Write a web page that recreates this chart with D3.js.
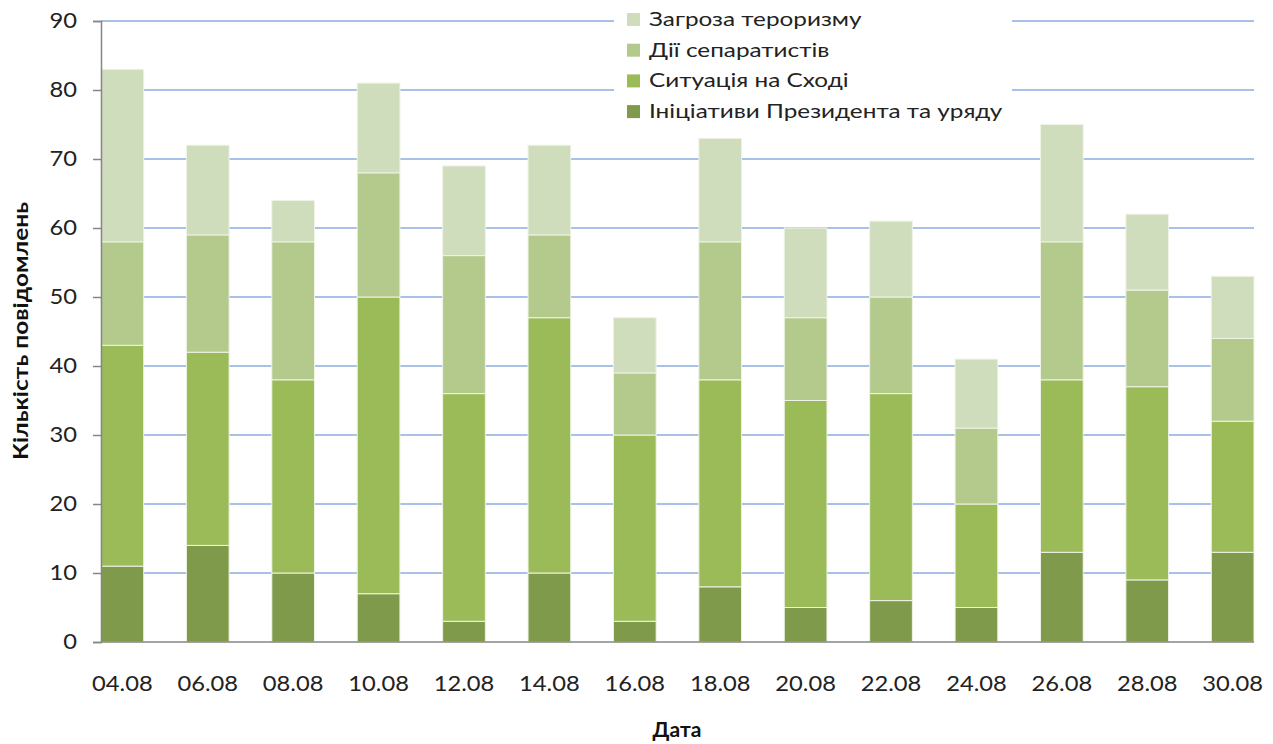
<!DOCTYPE html>
<html>
<head>
<meta charset="utf-8">
<script src="https://cdn.jsdelivr.net/npm/d3@7"></script>
<style>
  body { margin: 0; background: #fff; }
  text { font-family: Lato, "Noto Sans", sans-serif; }
</style>
</head>
<body>
<script>
const width = 1273, height = 744;

const dates = ["04.08","06.08","08.08","10.08","12.08","14.08","16.08","18.08","20.08","22.08","24.08","26.08","28.08","30.08"];
const initiatives = [11,14,10,7,3,10,3,8,5,6,5,13,9,13];
const eastSituation = [32,28,28,43,33,37,27,30,30,30,15,25,28,19];
const separatists = [15,17,20,18,20,12,9,20,12,14,11,20,14,12];
const terrorism = [25,13,6,13,13,13,8,15,13,11,10,17,11,9];
const yTicks = [0,10,20,30,40,50,60,70,80,90];

const seriesNames = ["Ініціативи Президента та уряду","Ситуація на Сході","Дії сепаратистів","Загроза тероризму"];
const colors = ["#7f9a4b","#9bbb59","#b4ca8c","#d0ddbc"];

const rows = dates.map((d, i) => ({
  date: d,
  s0: initiatives[i], s1: eastSituation[i], s2: separatists[i], s3: terrorism[i]
}));
const stack = d3.stack().keys(["s0","s1","s2","s3"])(rows);

const svg = d3.select("body").append("svg")
  .attr("width", width).attr("height", height);

const x = d3.scaleBand().domain(dates).range([101, 1254])
  .paddingInner(0.5).paddingOuter(0);
const y = d3.scaleLinear().domain([0, 90]).range([642, 21]);

// gridlines
svg.append("g").selectAll("line")
  .data(yTicks.filter(t => t > 0))
  .join("line")
    .attr("x1", 101).attr("x2", 1254)
    .attr("y1", d => y(d)).attr("y2", d => y(d))
    .attr("stroke", "#a9c0e8").attr("stroke-width", 2);

// bars
svg.append("g").selectAll("g")
  .data(stack)
  .join("g")
    .attr("fill", (d, i) => colors[i])
  .selectAll("rect")
  .data(d => d)
  .join("rect")
    .attr("x", d => x(d.data.date))
    .attr("width", x.bandwidth())
    .attr("y", d => y(d[1]))
    .attr("height", d => y(d[0]) - y(d[1]))
    .attr("stroke", "#eef3e6").attr("stroke-width", 1);

// y axis
const yAxis = svg.append("g")
  .attr("transform", "translate(101,0)")
  .call(d3.axisLeft(y).tickValues(yTicks).tickSize(8).tickPadding(0));
yAxis.select(".domain").attr("stroke", "#868686").attr("stroke-width", 1.5);
yAxis.selectAll(".tick line").attr("stroke", "#868686").attr("stroke-width", 1.5);
yAxis.selectAll(".tick text")
  .attr("x", 0)
  .attr("font-size", 21).attr("fill", "#222")
  .attr("transform", "translate(-24,0) scale(1.13,1)")
  .style("font-family", "Lato, 'Noto Sans', sans-serif");

// x axis
const xAxis = svg.append("g")
  .attr("transform", "translate(0,642)")
  .call(d3.axisBottom(x).tickSize(0).tickPadding(34));
xAxis.select(".domain").attr("stroke", "#868686").attr("stroke-width", 1.5)
  .attr("d", "M101,0H1254");
xAxis.selectAll(".tick text").attr("font-size", 21).attr("fill", "#222")
  .attr("transform", "scale(1.13,1)")
  .style("font-family", "Lato, 'Noto Sans', sans-serif");

// axis titles
svg.append("text")
  .attr("x", 677).attr("y", 737)
  .attr("text-anchor", "middle")
  .attr("font-size", 21).attr("font-weight", "bold").attr("fill", "#111")
  .text("Дата");

svg.append("text")
  .attr("transform", "translate(28,331) rotate(-90)")
  .attr("text-anchor", "middle")
  .attr("font-size", 21).attr("font-weight", "bold").attr("fill", "#111")
  .attr("textLength", 258).attr("lengthAdjust", "spacingAndGlyphs")
  .text("Кількість повідомлень");

// legend
const legend = svg.append("g");
legend.append("rect")
  .attr("x", 614).attr("y", 2).attr("width", 398).attr("height", 124)
  .attr("fill", "#fff");
const order = [3,2,1,0];
const li = legend.selectAll("g.item")
  .data(order)
  .join("g")
    .attr("class", "item")
    .attr("transform", (d, i) => `translate(627,${19 + i * 30.7})`);
li.append("rect")
  .attr("x", 0).attr("y", -6).attr("width", 13).attr("height", 13)
  .attr("fill", d => colors[d]);
li.append("text")
  .attr("x", 0).attr("y", 7)
  .attr("font-size", 19).attr("fill", "#222")
  .attr("transform", "translate(22,0) scale(1.28,1)")
  .text(d => seriesNames[d]);
</script>
</body>
</html>
